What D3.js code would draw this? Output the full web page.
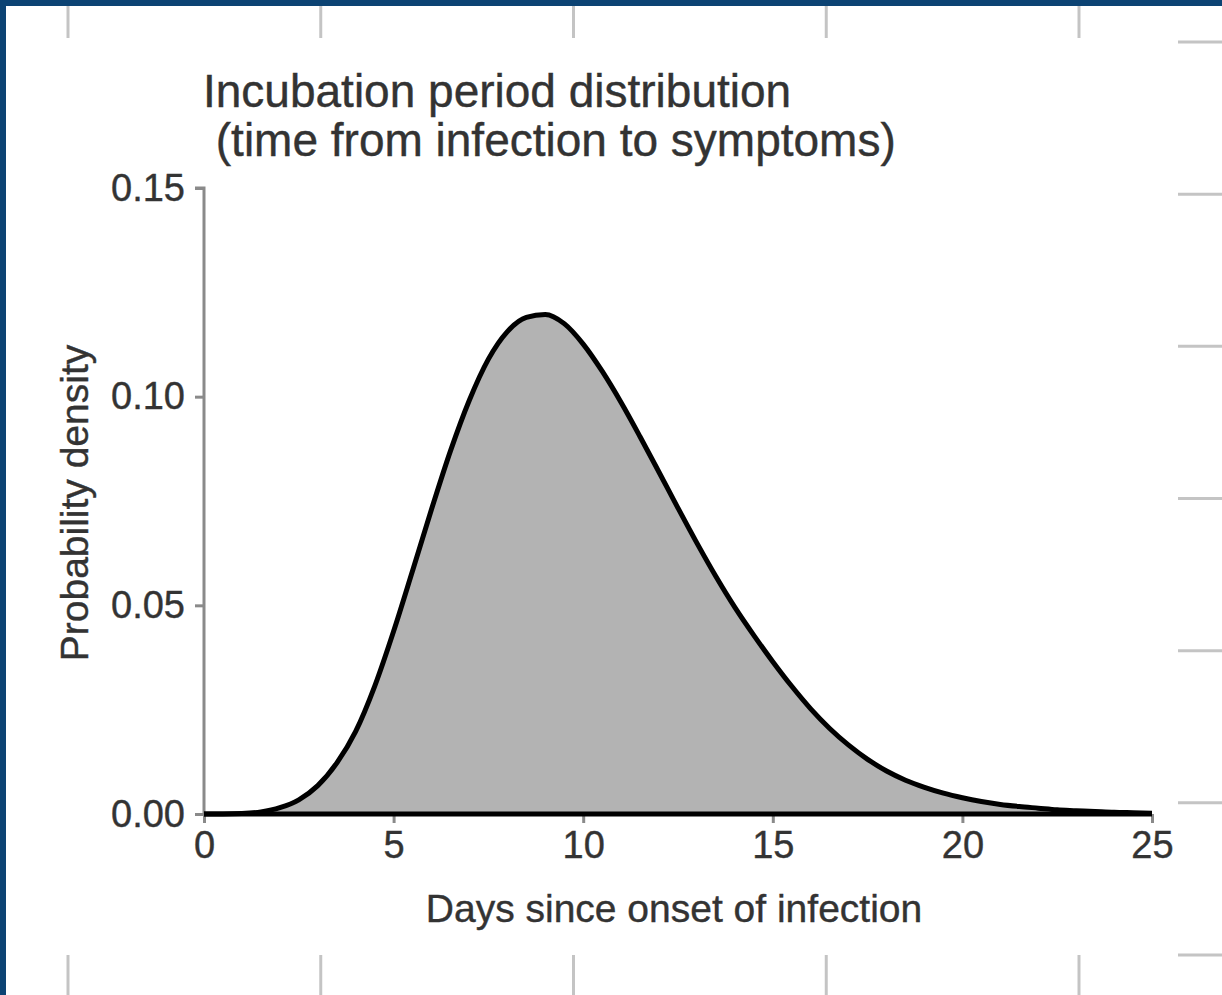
<!DOCTYPE html>
<html>
<head>
<meta charset="utf-8">
<script src="https://cdn.jsdelivr.net/npm/d3@7"></script>
<style>
  html, body { margin: 0; padding: 0; background: #0c4373; }
  svg { display: block; }
  text { font-family: "Liberation Sans", Arial, sans-serif; fill: #333; }
</style>
</head>
<body>
<svg id="chart"></svg>
<script>
// days since onset of infection
var days = [0, 0.5, 1, 1.5, 2, 2.5, 3, 3.5, 4, 4.5, 5, 5.5, 6, 6.5, 7, 7.5, 8, 8.5, 9, 9.5,
  10, 10.5, 11, 11.5, 12, 12.5, 13, 13.5, 14, 14.5, 15, 15.5, 16, 16.5, 17, 17.5, 18, 18.5, 19, 19.5,
  20, 20.5, 21, 21.5, 22, 22.5, 23, 23.5, 24, 24.5, 25];
// probability density
var density = [0, 0, 0.0001, 0.0005, 0.0015, 0.0034, 0.0068, 0.0122, 0.0198, 0.0306, 0.0438, 0.0583, 0.073, 0.087, 0.0992, 0.109, 0.1156, 0.119, 0.1197, 0.1175,
  0.1126, 0.1061, 0.0986, 0.0904, 0.0819, 0.0733, 0.0649, 0.0569, 0.0495, 0.0428, 0.0365, 0.0306, 0.0252, 0.0205, 0.0165, 0.0131, 0.0103, 0.0081, 0.0064, 0.005,
  0.0039, 0.003, 0.0023, 0.0018, 0.0014, 0.001, 0.0008, 0.0006, 0.0004, 0.0003, 0.0002];
var xTicks = [0, 5, 10, 15, 20, 25];
var yTicks = [0, 0.05, 0.10, 0.15];
var titleLines = ["Incubation period distribution", " (time from infection to symptoms)"];
var xLabel = "Days since onset of infection";
var yLabel = "Probability density";

var W = 1222, H = 995;
var plot = {left: 204, right: 1152, top: 188, bottom: 814};

var svg = d3.select("#chart").attr("width", W).attr("height", H);

// white page inside the blue frame
svg.append("rect").attr("x", 6).attr("y", 6).attr("width", W - 6).attr("height", H - 6).attr("fill", "#fff");

// faint frame ticks around the edge
var frameX = d3.scaleLinear().domain([0, 4]).range([68, 1079]);
var frameY = d3.scaleLinear().domain([0, 6]).range([42, 955]);
var fg = svg.append("g").attr("stroke", "#c4c4c4").attr("stroke-width", 3);
d3.range(5).forEach(function(i) {
  fg.append("line").attr("x1", frameX(i)).attr("x2", frameX(i)).attr("y1", 6).attr("y2", 38);
  fg.append("line").attr("x1", frameX(i)).attr("x2", frameX(i)).attr("y1", 955).attr("y2", H);
});
d3.range(7).forEach(function(i) {
  fg.append("line").attr("x1", 1178).attr("x2", W).attr("y1", frameY(i)).attr("y2", frameY(i));
});

var x = d3.scaleLinear().domain([0, 25]).range([plot.left, plot.right]);
var y = d3.scaleLinear().domain([0, 0.15]).range([plot.bottom, plot.top]);

// axes
var yAxis = d3.axisLeft(y).tickValues(yTicks).tickFormat(d3.format(".2f")).tickSize(9).tickPadding(10);
var yG = svg.append("g").attr("transform", "translate(" + plot.left + ",0)").call(yAxis);
yG.select(".domain").attr("stroke", "#8a8a8a").attr("stroke-width", 3).attr("d", "M-9," + y(0.15) + "H0V" + y(0));
yG.selectAll(".tick line").attr("stroke", "#8a8a8a").attr("stroke-width", 3);
yG.selectAll(".tick text").attr("font-size", 38).attr("fill", "#3a3a3a").attr("stroke", "#3a3a3a").attr("stroke-width", 0.4)
  .attr("font-family", "Liberation Sans, Arial, sans-serif");

var xAxis = d3.axisBottom(x).tickValues(xTicks).tickSize(9).tickPadding(8);
var xG = svg.append("g").attr("transform", "translate(0," + plot.bottom + ")").call(xAxis);
xG.select(".domain").attr("stroke", "#8a8a8a").attr("stroke-width", 3).attr("d", "M" + x(0) + ",0H" + x(25));
xG.selectAll(".tick line").attr("stroke", "#8a8a8a").attr("stroke-width", 3);
xG.selectAll(".tick text").attr("font-size", 38).attr("fill", "#3a3a3a").attr("stroke", "#3a3a3a").attr("stroke-width", 0.4)
  .attr("font-family", "Liberation Sans, Arial, sans-serif");

// density curve
var pts = days.map(function(d, i) { return [d, density[i]]; });
var area = d3.area().x(function(d) { return x(d[0]); }).y0(y(0)).y1(function(d) { return y(d[1]); }).curve(d3.curveMonotoneX);
svg.append("path").attr("d", area(pts)).attr("fill", "#b3b3b3");
var line = d3.line().x(function(d) { return x(d[0]); }).y(function(d) { return y(d[1]); }).curve(d3.curveMonotoneX);
svg.append("path").attr("d", line(pts)).attr("fill", "none").attr("stroke", "#000").attr("stroke-width", 5)
  .attr("stroke-linejoin", "round");
svg.append("line").attr("x1", x(0)).attr("x2", x(25)).attr("y1", y(0)).attr("y2", y(0))
  .attr("stroke", "#000").attr("stroke-width", 5);

// title
var title = svg.append("text").attr("x", 203).attr("y", 107).attr("font-size", 46).attr("fill", "#333")
  .attr("stroke", "#333").attr("stroke-width", 0.4).style("white-space", "pre");
titleLines.forEach(function(t, i) {
  title.append("tspan").attr("x", 203).attr("dy", i === 0 ? 0 : 49).text(t);
});

// axis titles
svg.append("text").attr("x", 674).attr("y", 922).attr("text-anchor", "middle")
  .attr("font-size", 39).attr("stroke", "#333").attr("stroke-width", 0.4).text(xLabel);
svg.append("text").attr("transform", "translate(88,503) rotate(-90)").attr("text-anchor", "middle")
  .attr("font-size", 39).attr("stroke", "#333").attr("stroke-width", 0.4).text(yLabel);
</script>
</body>
</html>
